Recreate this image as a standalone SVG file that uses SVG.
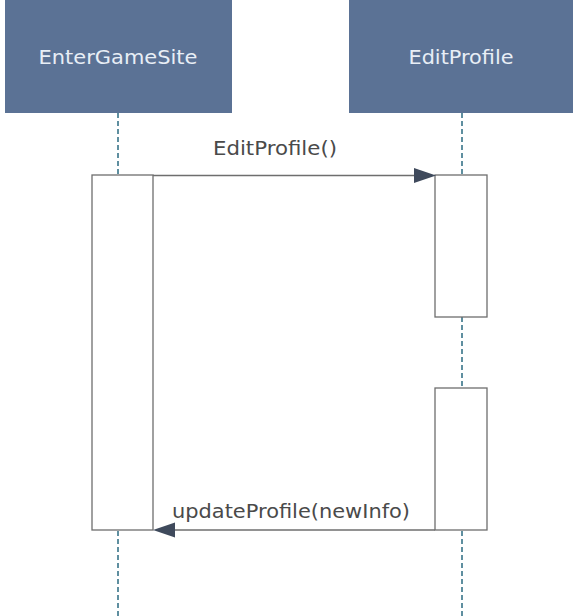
<svg xmlns="http://www.w3.org/2000/svg" width="573" height="616" viewBox="0 0 573 616">
<style>
.head{fill:#5b7295;stroke:none}
.htxt{font-family:"DejaVu Sans","Liberation Sans",sans-serif;font-size:19.5px;fill:#e8eef6;text-anchor:middle}
.life{stroke:#5f8fa0;stroke-width:2;stroke-dasharray:5 3;fill:none}
.act{fill:#ffffff;stroke:#6e6e6e;stroke-width:1.3}
.msg{stroke:#6e6e6e;stroke-width:1.3;fill:none}
.lbl{font-family:"DejaVu Sans","Liberation Sans",sans-serif;font-size:19.5px;fill:#4a4a4a}
</style>
<rect width="573" height="616" fill="#ffffff"/>
<g id="lifelines">
<line class="life" x1="118" y1="113" x2="118" y2="175"/>
<line class="life" x1="118" y1="531" x2="118" y2="616"/>
<line class="life" x1="462" y1="113" x2="462" y2="175"/>
<line class="life" x1="462" y1="317" x2="462" y2="388"/>
<line class="life" x1="462" y1="531" x2="462" y2="616"/>
</g>
<g id="EnterGameSite">
<rect class="head" x="5" y="0" width="227" height="113"/>
<text class="htxt" x="118" y="64" textLength="159" lengthAdjust="spacingAndGlyphs">EnterGameSite</text>
</g>
<g id="EditProfile">
<rect class="head" x="349" y="0" width="224" height="113"/>
<text class="htxt" x="461" y="64" textLength="105" lengthAdjust="spacingAndGlyphs">EditProfile</text>
</g>
<g id="activation-EnterGameSite">
<rect class="act" x="92" y="175" width="61" height="355"/>
</g>
<g id="activation-EditProfile-1">
<rect class="act" x="435" y="175" width="52" height="142"/>
</g>
<g id="activation-EditProfile-2">
<rect class="act" x="435" y="388" width="52" height="142"/>
</g>
<g id="connectors">
<line class="msg" x1="153" y1="175.5" x2="414" y2="175.5"/>
<path d="M414,168 L436,175.5 L414,183 Z" fill="#3f4a5c"/>
<line class="msg" x1="435" y1="530" x2="175" y2="530"/>
<path d="M175,522.5 L153,530 L175,537.5 Z" fill="#3f4a5c"/>
<text class="lbl" x="213" y="155" textLength="124" lengthAdjust="spacingAndGlyphs">EditProfile()</text>
<text class="lbl" x="172" y="518" textLength="238" lengthAdjust="spacingAndGlyphs">updateProfile(newInfo)</text>
</g>
</svg>
